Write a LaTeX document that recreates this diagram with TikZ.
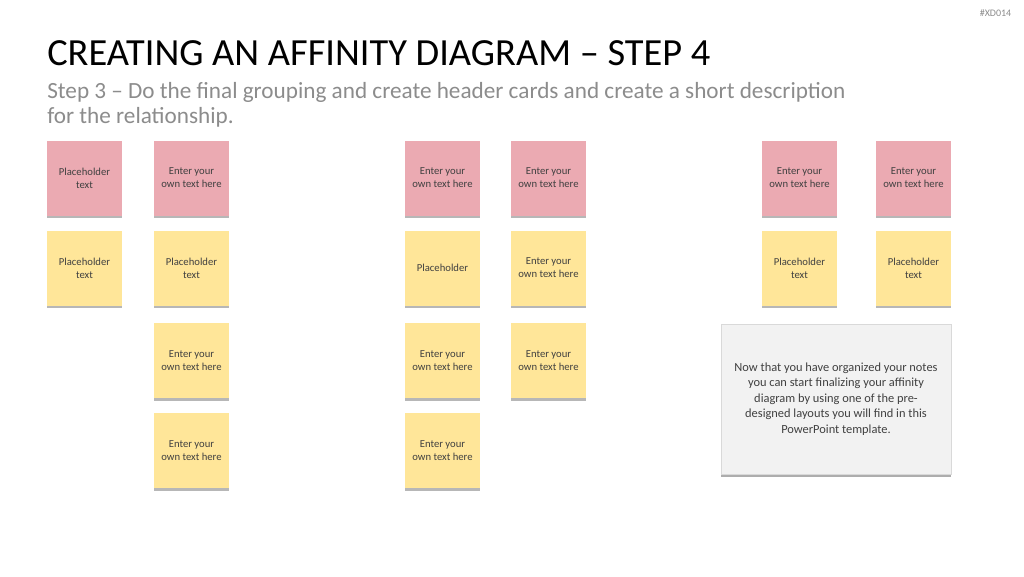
\documentclass[tikz,border=0pt]{standalone}
\usepackage{fontspec}
\setmainfont{Carlito}
\usetikzlibrary{shadows}

\definecolor{notepink}{HTML}{EBAAB2}
\definecolor{noteyellow}{HTML}{FFE699}
\definecolor{notegray}{HTML}{F2F2F2}
\definecolor{notetext}{HTML}{404040}
\definecolor{subgray}{HTML}{8C8C8C}

\begin{document}
\begin{tikzpicture}[x=0.75pt, y=-0.75pt,
    note/.style={minimum width=56.25pt, minimum height=56.25pt, inner sep=0pt,
        align=center, text=notetext, font=\fontsize{8}{9.8}\selectfont,
        drop shadow={shadow xshift=0pt, shadow yshift=-2pt, opacity=0.35, fill=black!80}},
    info/.style={minimum width=172.5pt, minimum height=112.5pt, inner sep=0pt,
        fill=notegray, draw=black!15, align=center, text=notetext,
        font=\fontsize{9.3}{11.7}\selectfont,
        drop shadow={shadow xshift=0pt, shadow yshift=-2pt, opacity=0.4, fill=black!80}}]

    % Fons de la diapositiva
    \useasboundingbox[fill=white] (0,0) rectangle (1024,576);

    % Codi i títols
    \node[anchor=east, text=black!45, font=\fontsize{7.5}{9}\selectfont] (codi) at (1016,13) {\#XD014};
    \node[anchor=base west, inner sep=0pt, font=\fontsize{28.8}{34}\selectfont] (titol) at (47,65)
        {CREATING AN AFFINITY DIAGRAM -- STEP 4};
    \node[anchor=base west, inner sep=0pt, text=subgray, align=left,
        font=\fontsize{17.4}{18.75}\selectfont] (subtitol) at (47,123)
        {Step 3 -- Do the final grouping and create header cards and create a short description\\
         for the relationship.};

    % Capçaleres (roses)
    \foreach \nm/\cx/\la/\lb in {
        capA/84.5/Placeholder/text, capB/191.5/Enter your/own text here,
        capC/442.5/Enter your/own text here, capD/548.5/Enter your/own text here,
        capE/799.5/Enter your/own text here, capF/913.5/Enter your/own text here
    } {
        \node[note, fill=notepink] (\nm) at (\cx,178) {\la\\\lb};
    }

    % Notes agrupades (grogues)
    \foreach \nm/\cx/\cy/\la/\lb in {
        a1/84.5/268/Placeholder/text,
        b1/191.5/268/Placeholder/text, b2/191.5/360.5/Enter your/own text here,
        b3/191.5/450.5/Enter your/own text here,
        c2/442.5/360.5/Enter your/own text here, c3/442.5/450.5/Enter your/own text here,
        d1/548.5/268/Enter your/own text here, d2/548.5/360.5/Enter your/own text here,
        e1/799.5/268/Placeholder/text, f1/913.5/268/Placeholder/text
    } {
        \node[note, fill=noteyellow] (\nm) at (\cx,\cy) {\la\\\lb};
    }
    \node[note, fill=noteyellow] (c1) at (442.5,268) {Placeholder};

    % Nota de descripció
    \node[info] (descripcio) at (836,399)
        {Now that you have organized your notes\\
         you can start finalizing your affinity\\
         diagram by using one of the pre-\\
         designed layouts you will find in this\\
         PowerPoint template.};

\end{tikzpicture}
\end{document}
